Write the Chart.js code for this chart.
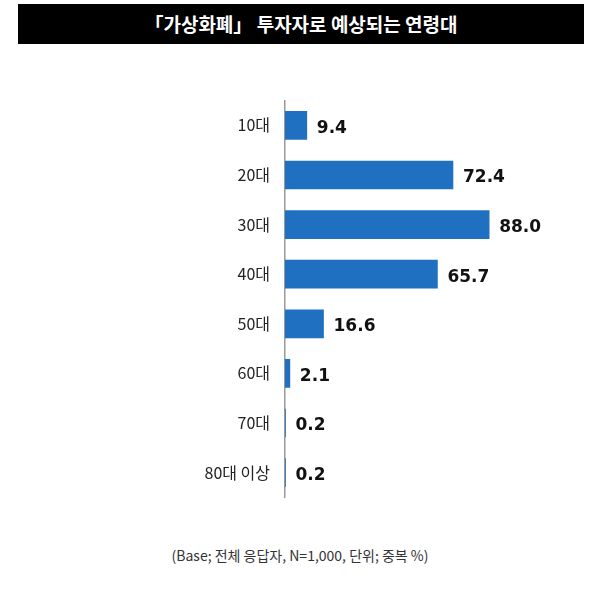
<!DOCTYPE html>
<html><head><meta charset="utf-8">
<script src="https://cdn.jsdelivr.net/npm/chart.js@4"></script>
<style>
body{margin:0;width:600px;height:593px;background:#fff;position:relative;font-family:"Noto Sans CJK KR","Noto Sans",sans-serif;overflow:hidden}
#title{position:absolute;left:18px;top:4px;width:566px;height:40px;background:#000;color:#fff;font-size:19px;font-weight:bold;text-align:center;line-height:40px}
#c{position:absolute;left:0;top:76px}
#foot{position:absolute;left:0;top:545px;width:600px;text-align:center;font-size:14px;color:#333}
</style></head><body>
<div id="title">「가상화폐」 투자자로 예상되는 연령대</div>
<canvas id="c" width="600" height="446"></canvas>
<div id="foot">(Base; 전체 응답자, N=1,000, 단위; 중복 %)</div>
<script>
const ages = ['10대', '20대', '30대', '40대', '50대', '60대', '70대', '80대 이상'];
const values = [9.4, 72.4, 88.0, 65.7, 16.6, 2.1, 0.2, 0.2];

// 막대 끝에 값 표시
const valueLabels = {
    id: 'valueLabels',
    afterDatasetsDraw(chart) {
        const ctx = chart.ctx;
        ctx.save();
        ctx.font = 'bold 17px "DejaVu Sans", sans-serif';
        ctx.fillStyle = '#111';
        ctx.textBaseline = 'middle';
        chart.getDatasetMeta(0).data.forEach((bar, i) => {
            ctx.fillText(values[i].toFixed(1), bar.x + 10, bar.y + 3);
        });
        ctx.restore();
    }
};

new Chart(document.getElementById('c'), {
    type: 'bar',
    data: {
        labels: ages,
        datasets: [{
            data: values,
            backgroundColor: '#1f70c1',
            barThickness: 28
        }]
    },
    options: {
        indexAxis: 'y',
        responsive: false,
        animation: false,
        layout: { padding: { right: 83, top: 0, bottom: 0 } },
        plugins: { legend: { display: false }, tooltip: { enabled: false } },
        scales: {
            x: { display: false, min: 0, max: 100 },
            y: {
                afterFit: s => { s.width = 285; },
                grid: { display: false, drawTicks: false },
                border: { color: '#999', width: 1.5 },
                ticks: { color: '#222', padding: 15, font: { size: 16, family: '"Noto Sans CJK KR", sans-serif' } }
            }
        }
    },
    plugins: [valueLabels]
});
</script>
</body></html>
